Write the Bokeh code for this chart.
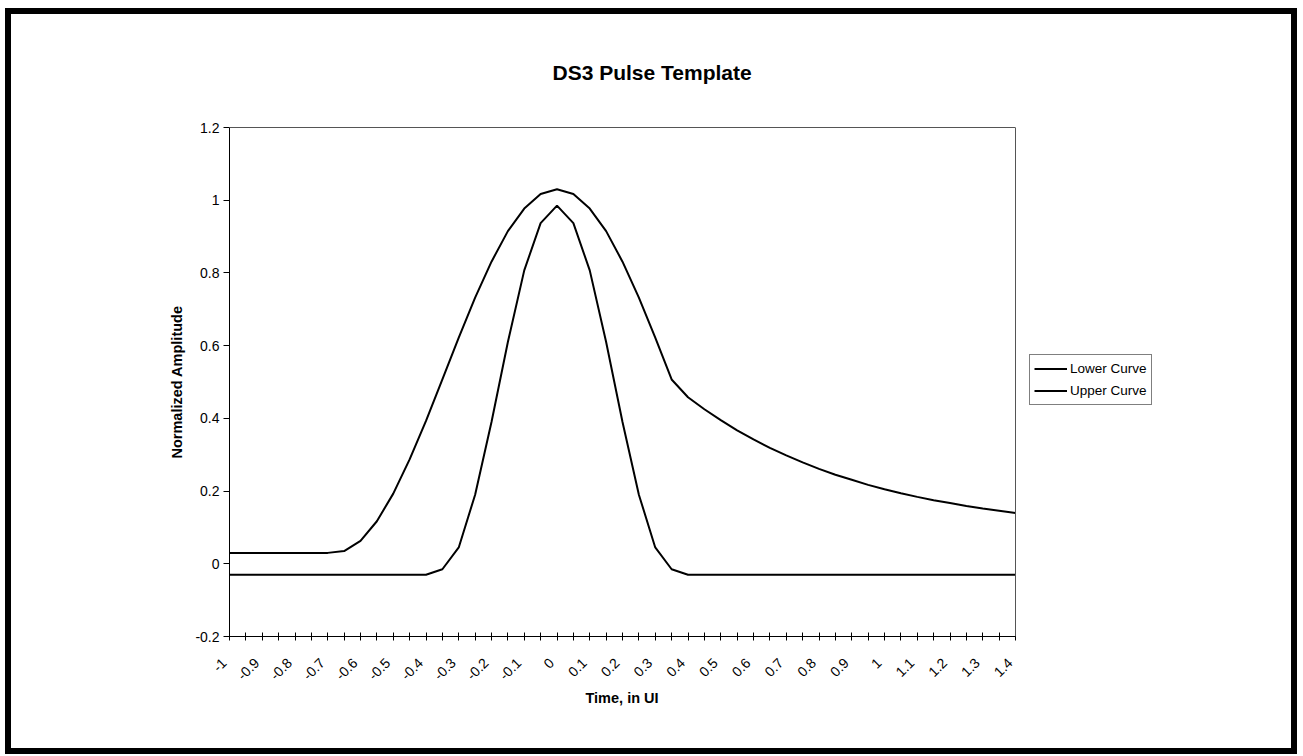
from bokeh.plotting import figure
from bokeh.layouts import column
from bokeh.models import FixedTicker, Legend, LegendItem, Range1d, LinearAxis, Span, Title
from bokeh.embed import file_html
from bokeh.resources import INLINE
import math

# ---- data ----
time_ui = [-1.0, -0.95, -0.9, -0.85, -0.8, -0.75, -0.7, -0.65, -0.6, -0.55,
           -0.5, -0.45, -0.4, -0.35, -0.3, -0.25, -0.2, -0.15, -0.1, -0.05,
           0.0, 0.05, 0.1, 0.15, 0.2, 0.25, 0.3, 0.35, 0.4, 0.45,
           0.5, 0.55, 0.6, 0.65, 0.7, 0.75, 0.8, 0.85, 0.9, 0.95,
           1.0, 1.05, 1.1, 1.15, 1.2, 1.25, 1.3, 1.35, 1.4]

lower_curve = [-0.03, -0.03, -0.03, -0.03, -0.03, -0.03, -0.03, -0.03, -0.03, -0.03,
               -0.03, -0.03, -0.03, -0.015, 0.045, 0.19, 0.39, 0.61, 0.807, 0.937,
               0.985, 0.937, 0.807, 0.61, 0.39, 0.19, 0.045, -0.015, -0.03, -0.03,
               -0.03, -0.03, -0.03, -0.03, -0.03, -0.03, -0.03, -0.03, -0.03, -0.03,
               -0.03, -0.03, -0.03, -0.03, -0.03, -0.03, -0.03, -0.03, -0.03]

upper_curve = [0.03, 0.03, 0.03, 0.03, 0.03, 0.03, 0.03, 0.035, 0.063, 0.117,
               0.193, 0.287, 0.393, 0.507, 0.622, 0.732, 0.831, 0.915, 0.977, 1.017,
               1.03, 1.017, 0.977, 0.915, 0.831, 0.732, 0.622, 0.507, 0.458, 0.425,
               0.395, 0.367, 0.342, 0.319, 0.298, 0.279, 0.261, 0.245, 0.231, 0.217,
               0.205, 0.194, 0.184, 0.175, 0.167, 0.159, 0.152, 0.146, 0.140]

x_tick_labels = ["-1", "-0.9", "-0.8", "-0.7", "-0.6", "-0.5", "-0.4", "-0.3", "-0.2", "-0.1",
                 "0", "0.1", "0.2", "0.3", "0.4", "0.5", "0.6", "0.7", "0.8", "0.9",
                 "1", "1.1", "1.2", "1.3", "1.4"]
y_tick_labels = ["-0.2", "0", "0.2", "0.4", "0.6", "0.8", "1", "1.2"]

series_names = ["Lower Curve", "Upper Curve"]
title_text = "DS3 Pulse Template"
x_title = "Time, in UI"
y_title = "Normalized Amplitude"

FONT = "Liberation Sans"

# ---- layout constants ----
X_MIN, X_MAX = -1.0, 1.4
Y_MIN, Y_MAX = -0.2, 1.2
PLOT_W, PLOT_H = 786, 509          # visible plot area in px
PAD_L, PAD_R = 6, 185              # extra frame room (left of the y axis line, right for legend)
UNITS_PER_PX = (X_MAX - X_MIN) / PLOT_W
LABEL_SHIFT = -5.5 * UNITS_PER_PX  # rotated labels sit a little left of their tick

p = figure(frame_width=PLOT_W + PAD_L + PAD_R, frame_height=PLOT_H,
           output_backend="svg", toolbar_location=None,
           x_range=Range1d(X_MIN - PAD_L * UNITS_PER_PX, X_MAX + PAD_R * UNITS_PER_PX),
           y_range=Range1d(Y_MIN, Y_MAX),
           min_border_left=212, min_border_right=91,
           min_border_top=113, min_border_bottom=112,
           background_fill_color="white", border_fill_color="white")

p.outline_line_color = None
p.xgrid.visible = False
p.ygrid.visible = False

# title
p.title.text = title_text
p.title.align = "left"
p.title.offset = 323 + PAD_L
p.title.standoff = 88
p.title.text_font = FONT
p.title.text_font_size = "21px"
p.title.text_font_style = "bold"
p.title.text_color = "black"

# x axis: tick marks at every category (minor ticks), labels every other one
p.xaxis.bounds = (X_MIN, X_MAX)
p.xaxis.ticker = FixedTicker(ticks=[float(s) + LABEL_SHIFT for s in x_tick_labels],
                             minor_ticks=[float(v) for v in time_ui])
p.xaxis.major_label_overrides = {float(s) + LABEL_SHIFT: s for s in x_tick_labels}
p.xaxis.major_label_orientation = math.pi / 4
p.xaxis.major_tick_line_color = None
p.xaxis.major_tick_in = 0
p.xaxis.major_tick_out = 4
p.xaxis.minor_tick_in = 4
p.xaxis.minor_tick_out = 4
p.xaxis.minor_tick_line_color = "black"
p.xaxis.major_label_standoff = 20
p.xaxis.axis_line_color = "black"

# x axis title, centred under the plot area
x_title_label = Title(text=x_title, align="left", offset=PAD_L + 356, standoff=0,
                      text_font=FONT, text_font_size="14.5px", text_font_style="bold",
                      text_color="black")
p.add_layout(x_title_label, "below")

# y axis (its line is drawn at x = X_MIN by a span)
p.yaxis.ticker = FixedTicker(ticks=[float(s) for s in y_tick_labels], minor_ticks=[])
p.yaxis.major_label_overrides = {float(s): s for s in y_tick_labels}
p.yaxis.axis_line_color = None
p.yaxis.major_tick_in = PAD_L
p.yaxis.major_tick_out = 0
p.yaxis.major_tick_line_color = "black"
p.yaxis.minor_tick_line_color = None
p.yaxis.major_label_standoff = 4
p.yaxis.axis_label = y_title
p.yaxis.axis_label_standoff = 7
p.yaxis.axis_label_text_font = FONT
p.yaxis.axis_label_text_font_size = "14.5px"
p.yaxis.axis_label_text_font_style = "bold"
p.yaxis.axis_label_text_color = "black"

for ax in (p.xaxis, p.yaxis):
    ax.major_label_text_font = FONT
    ax.major_label_text_font_size = "14px"
    ax.major_label_text_color = "black"

p.add_layout(Span(location=X_MIN, dimension="height", line_color="black", line_width=1))

# plot-area border: top and right edges
top_edge = LinearAxis(bounds=(X_MIN, X_MAX), ticker=FixedTicker(ticks=[], minor_ticks=[]),
                      axis_line_color="#555555", major_tick_in=0, major_tick_out=0,
                      minor_tick_in=0, minor_tick_out=0, major_label_standoff=0)
p.add_layout(top_edge, "above")
p.add_layout(Span(location=X_MAX, dimension="height", line_color="#555555", line_width=1))

r_lower = p.line(time_ui, lower_curve, line_color="black", line_width=2)
r_upper = p.line(time_ui, upper_curve, line_color="black", line_width=2)

legend = Legend(items=[LegendItem(label=series_names[0], renderers=[r_lower]),
                       LegendItem(label=series_names[1], renderers=[r_upper])],
                location=(PAD_L + PLOT_W + 14, 231))
legend.border_line_color = "black"
legend.border_line_width = 1
legend.background_fill_color = "white"
legend.background_fill_alpha = 1
legend.padding = 4
legend.spacing = 3
legend.margin = 0
legend.glyph_width = 33
legend.glyph_height = 19
legend.label_height = 19
legend.label_standoff = 3
legend.label_text_font = FONT
legend.label_text_font_size = "13.5px"
legend.label_text_color = "black"
p.add_layout(legend, "center")

page = column(p, margin=(8, 0, 0, 5),
              styles={"border": "6px solid black", "background-color": "white"})

open("out.html", "w").write(file_html(page, INLINE))
